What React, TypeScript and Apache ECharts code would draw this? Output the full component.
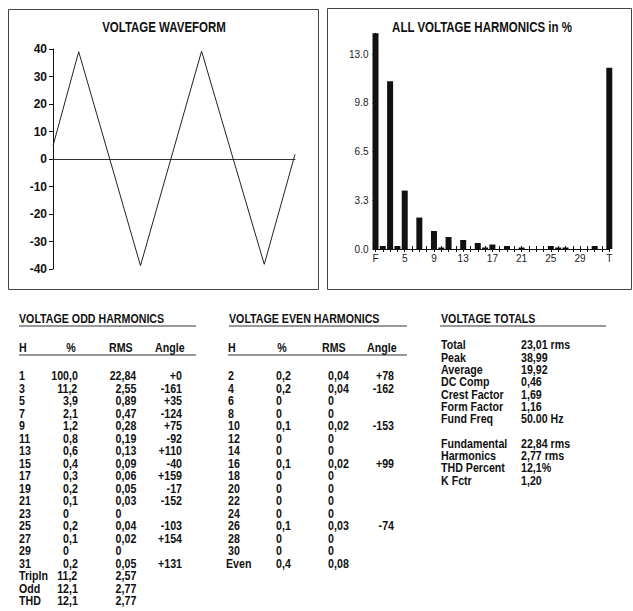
import React, { useEffect, useRef } from "react";
import * as echarts from "echarts";

// ---------- data ----------
const WAVE_T = [0, 4.25, 9.38, 14.46, 19.48, 24.56, 29.79, 34.92, 40];
const WAVE_V = [4.8, 39, 0, -38.8, 0, 39.2, 0, -38.3, 1.7];
const WAVE_TICKS = [-40, -30, -20, -10, 0, 10, 20, 30, 40];

const BAR_CATS = ["F", "2", "3", "4", "5", "6", "7", "8", "9", "10", "11", "12", "13", "14", "15", "16", "17", "18", "19", "20", "21", "22", "23", "24", "25", "26", "27", "28", "29", "30", "31", "32", "T"];
const BAR_VALS = [100, 0.2, 11.2, 0.2, 3.9, 0, 2.1, 0, 1.2, 0.1, 0.8, 0, 0.6, 0, 0.4, 0.1, 0.3, 0, 0.2, 0, 0.1, 0, 0, 0, 0.2, 0.1, 0.1, 0, 0, 0, 0.2, 0, 12.1];
const BAR_TICKS = [0, 3.25, 6.5, 9.75, 13];
const BAR_TICK_LABELS = ["0.0", "3.3", "6.5", "9.8", "13.0"];

const ODD_H = ["1", "3", "5", "7", "9", "11", "13", "15", "17", "19", "21", "23", "25", "27", "29", "31", "Tripln", "Odd", "THD"];
const ODD_PCT = ["100,0", "11,2", "3,9", "2,1", "1,2", "0,8", "0,6", "0,4", "0,3", "0,2", "0,1", "0", "0,2", "0,1", "0", "0,2", "11,2", "12,1", "12,1"];
const ODD_RMS = ["22,84", "2,55", "0,89", "0,47", "0,28", "0,19", "0,13", "0,09", "0,06", "0,05", "0,03", "0", "0,04", "0,02", "0", "0,05", "2,57", "2,77", "2,77"];
const ODD_ANGLE = ["+0", "-161", "+35", "-124", "+75", "-92", "+110", "-40", "+159", "-17", "-152", "", "-103", "+154", "", "+131", "", "", ""];

const EVEN_H = ["2", "4", "6", "8", "10", "12", "14", "16", "18", "20", "22", "24", "26", "28", "30", "Even"];
const EVEN_PCT = ["0,2", "0,2", "0", "0", "0,1", "0", "0", "0,1", "0", "0", "0", "0", "0,1", "0", "0", "0,4"];
const EVEN_RMS = ["0,04", "0,04", "0", "0", "0,02", "0", "0", "0,02", "0", "0", "0", "0", "0,03", "0", "0", "0,08"];
const EVEN_ANGLE = ["+78", "-162", "", "", "-153", "", "", "+99", "", "", "", "", "-74", "", "", ""];

const TOT_LABELS = ["Total", "Peak", "Average", "DC Comp", "Crest Factor", "Form Factor", "Fund Freq", "", "Fundamental", "Harmonics", "THD Percent", "K Fctr"];
const TOT_VALUES = ["23,01 rms", "38,99", "19,92", "0,46", "1,69", "1,16", "50.00 Hz", "", "22,84 rms", "2,77 rms", "12,1%", "1,20"];

const HEADERS = ["H", "%", "RMS", "Angle"];

// ---------- layout ----------
const SANS = "'Liberation Sans', Arial, sans-serif";
const NARROW_SCALE = 0.82;
const TFONT = `bold 13px ${SANS}`;
const DIGIT_W = 13 * 0.556 * NARROW_SCALE;
const ROW0 = 376;
const ROW_H = 12.5;
const TITLE_Y = 319;
const HEAD_Y = 348;
const TOT_Y0 = 345;
const TOT_H = 12.3;

function txt(text: string, x: number, y: number, align: string = "left", font: string = TFONT) {
  return {
    type: "text",
    x,
    y,
    scaleX: NARROW_SCALE,
    z: 10,
    silent: true,
    style: {
      text,
      x: 0,
      y: 0,
      font,
      fill: "#111",
      align,
      textAlign: align,
      verticalAlign: "middle",
      textVerticalAlign: "middle",
    },
  };
}
function hline(x1: number, x2: number, y: number) {
  return {
    type: "line",
    z: 5,
    silent: true,
    shape: { x1, y1: y, x2, y2: y },
    style: { stroke: "#333", lineWidth: 1 },
  };
}
function decimal(text: string, commaX: number, y: number) {
  const intLen = text.split(",")[0].length;
  return txt(text, commaX - intLen * DIGIT_W, y);
}

function buildGraphics() {
  const g: any[] = [];
  // panel frames
  g.push({ type: "rect", silent: true, shape: { x: 8.5, y: 9.5, width: 310, height: 280 }, style: { fill: "none", stroke: "#444", lineWidth: 1 } });
  g.push({ type: "rect", silent: true, shape: { x: 327.5, y: 8.5, width: 304, height: 281 }, style: { fill: "none", stroke: "#444", lineWidth: 1 } });
  // chart titles
  g.push(txt("VOLTAGE WAVEFORM", 164, 27, "center", `bold 14px ${SANS}`));
  g.push(txt("ALL VOLTAGE HARMONICS in %", 482, 27, "center", `bold 14px ${SANS}`));

  // odd table
  g.push(txt("VOLTAGE ODD HARMONICS", 19, TITLE_Y));
  g.push(hline(19, 196, TITLE_Y + 7));
  const oddHeadX = [19, 71, 109, 155];
  HEADERS.forEach((h, i) => g.push(txt(h, oddHeadX[i], HEAD_Y, i === 1 ? "center" : "left")));
  g.push(hline(19, 196, HEAD_Y + 7));
  ODD_H.forEach((h, i) => {
    const y = ROW0 + i * ROW_H;
    g.push(txt(h, 19, y));
    g.push(decimal(ODD_PCT[i], 69, y));
    g.push(decimal(ODD_RMS[i], 121.5, y));
    if (ODD_ANGLE[i]) g.push(txt(ODD_ANGLE[i], 182, y, "right"));
  });

  // even table
  g.push(txt("VOLTAGE EVEN HARMONICS", 229, TITLE_Y));
  g.push(hline(229, 407, TITLE_Y + 7));
  const evenHeadX = [228, 282, 322, 367];
  HEADERS.forEach((h, i) => g.push(txt(h, evenHeadX[i], HEAD_Y, i === 1 ? "center" : "left")));
  g.push(hline(228, 407, HEAD_Y + 7));
  EVEN_H.forEach((h, i) => {
    const y = ROW0 + i * ROW_H;
    g.push(txt(h, h === "Even" ? 226 : 228, y));
    g.push(decimal(EVEN_PCT[i], 282, y));
    g.push(decimal(EVEN_RMS[i], 334, y));
    if (EVEN_ANGLE[i]) g.push(txt(EVEN_ANGLE[i], 394, y, "right"));
  });

  // totals
  g.push(txt("VOLTAGE TOTALS", 441, TITLE_Y));
  g.push(hline(440, 606, TITLE_Y + 7));
  TOT_LABELS.forEach((l, i) => {
    if (!l) return;
    const y = TOT_Y0 + i * TOT_H;
    g.push(txt(l, 441, y));
    g.push(txt(TOT_VALUES[i], 521, y));
  });
  return g;
}

export default function App() {
  const ref = useRef<HTMLDivElement>(null);
  useEffect(() => {
    if (!ref.current) return;
    const chart = echarts.init(ref.current, undefined, { renderer: "svg" });
    const waveLeft = 53, waveRight = 295, waveTop = 49, waveBottom = 269;
    const barLeft = 375.5, barRight = 609.3, barTop = 33.3, barBottom = 249;
    chart.setOption({
      animation: false,
      backgroundColor: "#fff",
      grid: [
        { left: waveLeft, top: waveTop, width: waveRight - waveLeft, height: waveBottom - waveTop },
        { left: barLeft, top: barTop, width: barRight - barLeft, height: barBottom - barTop },
      ],
      xAxis: [
        {
          type: "value",
          gridIndex: 0,
          position: "bottom",
          min: 0,
          max: 40,
          axisLine: { show: true, onZero: true, lineStyle: { color: "#333", width: 1 } },
          axisTick: { show: false },
          axisLabel: { show: false },
          splitLine: { show: false },
        },
        {
          type: "category",
          gridIndex: 1,
          position: "bottom",
          data: BAR_CATS,
          boundaryGap: false,
          axisLine: { show: true, lineStyle: { color: "#111", width: 1 } },
          axisTick: { show: true, interval: 0, length: 3, lineStyle: { color: "#111" } },
          axisLabel: { interval: 3, margin: 4, fontSize: 10, color: "#222", fontFamily: SANS },
          splitLine: { show: false },
        },
        {
          type: "category",
          gridIndex: 1,
          position: "bottom",
          offset: 0,
          data: BAR_CATS,
          boundaryGap: false,
          axisLine: { show: false },
          axisTick: { show: true, inside: true, interval: 0, length: 3, lineStyle: { color: "#111" } },
          axisLabel: { show: false },
          splitLine: { show: false },
        },
      ],
      yAxis: [
        {
          type: "value",
          gridIndex: 0,
          min: WAVE_TICKS[0],
          max: WAVE_TICKS[WAVE_TICKS.length - 1],
          interval: 10,
          axisLine: { show: true, lineStyle: { color: "#111", width: 1 } },
          axisTick: { show: true, length: 4, lineStyle: { color: "#111" } },
          axisLabel: { margin: 6, color: "#111", fontSize: 12, fontWeight: "bold", fontFamily: SANS },
          splitLine: { show: false },
        },
        {
          type: "value",
          gridIndex: 1,
          min: 0,
          max: 14.4,
          axisLine: { show: true, lineStyle: { color: "#111", width: 1 } },
          axisTick: { show: true, length: 3, customValues: BAR_TICKS, lineStyle: { color: "#111" } },
          axisLabel: {
            customValues: BAR_TICKS,
            margin: 7,
            fontSize: 10,
            color: "#222",
            fontFamily: SANS,
            formatter: (v: number) => {
              const i = BAR_TICKS.indexOf(v);
              return i >= 0 ? BAR_TICK_LABELS[i] : "";
            },
          },
          splitLine: { show: false },
        },
      ],
      series: [
        {
          type: "line",
          xAxisIndex: 0,
          yAxisIndex: 0,
          data: WAVE_T.map((t, i) => [t, WAVE_V[i]]),
          showSymbol: false,
          symbol: "none",
          lineStyle: { color: "#222", width: 1 },
        },
        {
          type: "bar",
          xAxisIndex: 1,
          yAxisIndex: 1,
          data: BAR_VALS,
          barWidth: 6,
          clip: true,
          itemStyle: { color: "#111" },
        },
      ],
      graphic: buildGraphics(),
    });
    return () => chart.dispose();
  }, []);
  return <div ref={ref} style={{ position: "absolute", left: 0, top: 0, width: 633, height: 611 }} />;
}
